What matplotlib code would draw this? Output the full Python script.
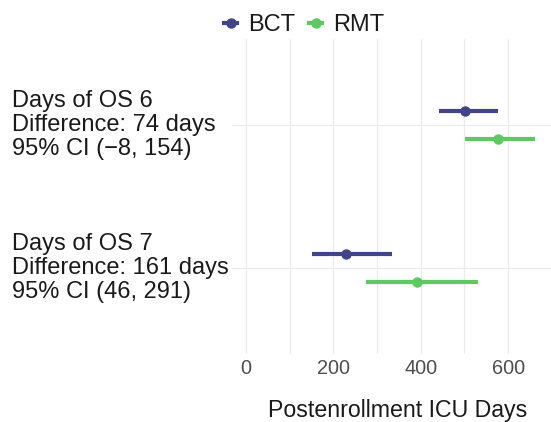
import matplotlib
matplotlib.use("Agg")
import matplotlib.pyplot as plt
from matplotlib.lines import Line2D
import matplotlib.transforms as mtransforms

plt.rcParams['font.family'] = ['Liberation Sans', 'DejaVu Sans']

# data
categories = ["Days of OS 6\nDifference: 74 days\n95% CI (\u22128, 154)",
              "Days of OS 7\nDifference: 161 days\n95% CI (46, 291)"]
cat_pos = [2, 1]
groups = ["BCT", "RMT"]
colors = {"BCT": "#414487", "RMT": "#5EC962"}
dodge = {"BCT": 0.1, "RMT": -0.1}
est = {"BCT": [502, 228], "RMT": [576, 391]}
lo = {"BCT": [441, 150], "RMT": [502, 275]}
hi = {"BCT": [576, 335], "RMT": [661, 532]}

W, H = 551, 422
fig = plt.figure(figsize=(W / 100, H / 100), dpi=100)
left, right, top, bottom = 232, 564, 39.2, 353.8
ax = fig.add_axes([left / W, 1 - bottom / H, (right - left) / W, (bottom - top) / H])

for g in groups:
    ys = [c + dodge[g] for c in cat_pos]
    ax.hlines(ys, lo[g], hi[g], color=colors[g], lw=3.0, zorder=3)
    ax.plot(est[g], ys, 'o', color=colors[g], ms=6.5, zorder=4)

ax.set_xlim(-32, 728)
ax.set_ylim(0.4, 2.6)
ax.set_xticks([0, 200, 400, 600])
ax.set_xticks([100, 300, 500, 700], minor=True)
ax.set_yticks(cat_pos)
ax.set_yticklabels([])
ax.grid(True, which='both', axis='x', color='#EBEBEB', lw=0.9)
ax.grid(True, which='major', axis='y', color='#EBEBEB', lw=0.9)
ax.set_axisbelow(True)
for s in ax.spines.values():
    s.set_visible(False)
ax.tick_params(axis='both', which='both', length=0)
ax.tick_params(axis='x', pad=3.5, labelsize=14.3, labelcolor='#4D4D4D')

trans = mtransforms.blended_transform_factory(fig.transFigure, ax.transData)
for lab, c in zip(categories, cat_pos):
    ax.text(12 / W, c, lab, transform=trans, ha='left', va='center',
            fontsize=17, color='#1A1A1A', linespacing=1.14)

fig.text(398 / W, 1 - 416.5 / H, "Postenrollment ICU Days", ha='center',
         va='baseline', fontsize=16.7, color='#1A1A1A')

handles = [Line2D([0], [0], color=colors[g], marker='o', ms=6.5, lw=3.0)
           for g in groups]
fig.legend(handles, groups, loc='center', bbox_to_anchor=(304 / W, 1 - 25 / H),
           ncol=2, frameon=False, fontsize=17, handlelength=0.55,
           handletextpad=0.45, columnspacing=0.6, labelcolor='#1A1A1A')

fig.savefig("out.png", dpi=100)
